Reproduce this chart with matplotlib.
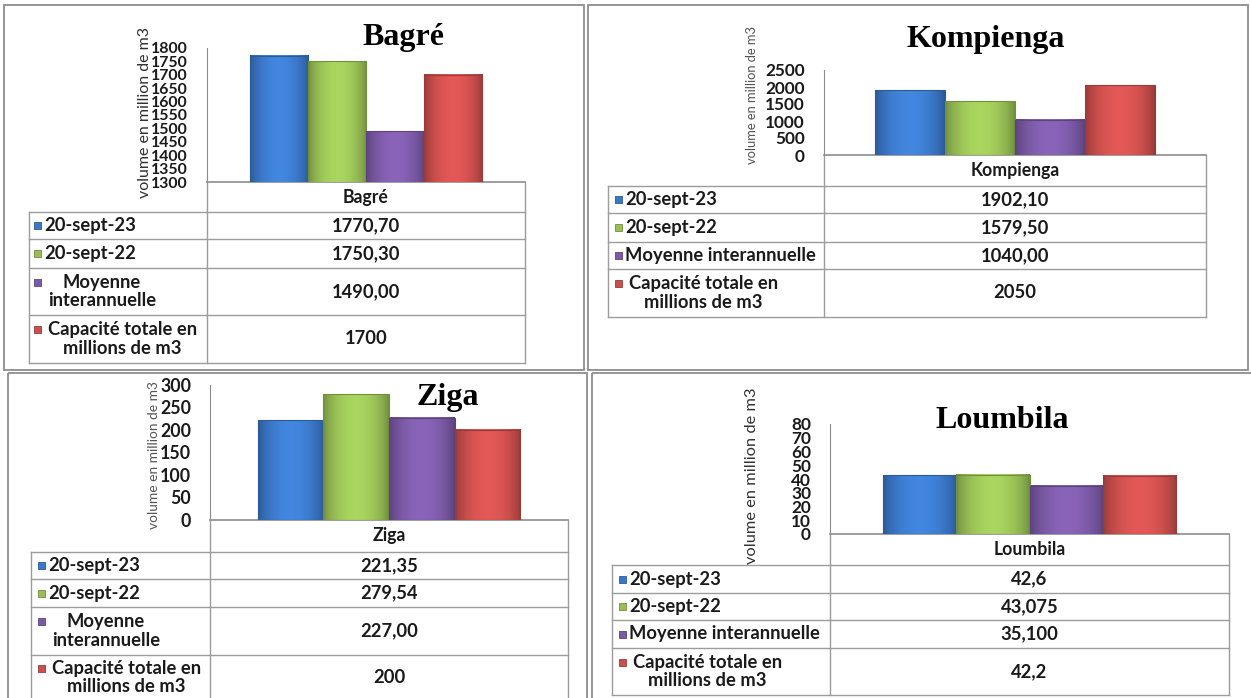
import numpy as np
import matplotlib.pyplot as plt
from matplotlib.patches import Rectangle
from matplotlib.colors import to_rgb

plt.rcParams['font.family'] = ['Lato', 'DejaVu Sans']

W, H = 1251, 698

# reservoir volumes (million m3), as written in each data table
series = ['20-sept-23', '20-sept-22', 'Moyenne interannuelle',
          'Capacité totale en millions de m3']
colors = ['#3b78c8', '#98bf55', '#7b59a5', '#cb4f4d']

bagre_vals = ['1770,70', '1750,30', '1490,00', '1700']
kompienga_vals = ['1902,10', '1579,50', '1040,00', '2050']
ziga_vals = ['221,35', '279,54', '227,00', '200']
loumbila_vals = ['42,6', '43,075', '35,100', '42,2']

bagre_ticks = [1300, 1350, 1400, 1450, 1500, 1550, 1600, 1650, 1700, 1750, 1800]
kompienga_ticks = [0, 500, 1000, 1500, 2000, 2500]
ziga_ticks = [0, 50, 100, 150, 200, 250, 300]
loumbila_ticks = [0, 10, 20, 30, 40, 50, 60, 70, 80]

labels_wrapped = ['20-sept-23', '20-sept-22', 'Moyenne\ninterannuelle',
                  'Capacité totale en\nmillions de m3']
labels_wide = ['20-sept-23', '20-sept-22', 'Moyenne interannuelle',
               'Capacité totale en\nmillions de m3']
ylabel = 'volume en million de m3'

# pixel layout of each chart block
panels = [
    dict(name='Bagré', vals=bagre_vals, ticks=bagre_ticks, labels=labels_wrapped,
         box=(4, 5, 584, 370), title=(403, 37), ylab=(145, 113, 11.5, '#303030'),
         left=29, split=207, right=525, top=48, base=182,
         rows=[212, 239, 268, 315, 363], mk=34, tick_fs=11.4),
    dict(name='Kompienga', vals=kompienga_vals, ticks=kompienga_ticks, labels=labels_wide,
         box=(588, 5, 1248, 370), title=(986, 40), ylab=(752, 95, 9.3, '#555555'),
         left=608, split=824, right=1206, top=70, base=155,
         rows=[186, 213, 242, 269, 317], mk=615, tick_fs=12.4),
    dict(name='Ziga', vals=ziga_vals, ticks=ziga_ticks, labels=labels_wrapped,
         box=(8, 373, 587, 701), title=(448, 398), ylab=(154, 455, 9.9, '#555555'),
         left=31, split=210, right=568, top=385, base=520,
         rows=[552, 579, 607, 655, 700], mk=38, tick_fs=12.8),
    dict(name='Loumbila', vals=loumbila_vals, ticks=loumbila_ticks, labels=labels_wide,
         box=(592, 373, 1253, 701), title=(1002, 420), ylab=(752, 476, 11.8, '#333333'),
         left=612, split=830, right=1229, top=424, base=534,
         rows=[565, 593, 620, 648, 695], mk=619, tick_fs=12.4),
]

fig = plt.figure(figsize=(W / 100, H / 100), dpi=100)
ov = fig.add_axes([0, 0, 1, 1])
ov.set_xlim(0, W)
ov.set_ylim(H, 0)
ov.axis('off')

line_c = '#9c9c9c'
axis_c = '#8c8c8c'
text_c = '#1a1a1a'
table_fs = 13.2


def darker(c, k=0.75):
    return tuple(np.clip(np.array(to_rgb(c)) * k, 0, 1))


def shade(ax, patch, color, floor):
    # horizontal light-to-dark gradient like the Excel bevel
    x0, y0 = patch.get_x(), max(patch.get_y(), floor)
    w, top = patch.get_width(), patch.get_y() + patch.get_height()
    t = np.linspace(0, 1, 64)
    k = 0.74 + 0.38 * np.sin(np.pi * t) ** 0.7
    rgb = np.clip(np.array(to_rgb(color))[None, :] * k[:, None], 0, 1)
    ax.imshow(rgb[None, :, :], extent=(x0, x0 + w, y0, top),
              aspect='auto', zorder=2, interpolation='bicubic')


for p in panels:
    values = [float(v.replace(',', '.')) for v in p['vals']]
    x0, y0, x1, y1 = p['box']
    ov.add_patch(Rectangle((x0, y0), x1 - x0, y1 - y0, fill=False,
                           ec=axis_c, lw=1.3))

    ov.text(*p['title'], p['name'], family='Liberation Serif', weight='bold',
            fontsize=23, ha='center', va='center')
    lx, ly, lfs, lc = p['ylab']
    ov.text(lx, ly, ylabel, rotation=90, ha='center', va='center',
            fontsize=lfs, color=lc)

    # bar chart area
    sp, rt, top, base = p['split'], p['right'], p['top'], p['base']
    lo, hi = p['ticks'][0], p['ticks'][-1]
    ax = fig.add_axes([sp / W, 1 - base / H, (rt - sp) / W, (base - top) / H])
    ax.patch.set_alpha(0)
    bw = 0.183
    xs = [0.5 + (i - 1.5) * bw for i in range(len(values))]
    bars = ax.bar(xs, values, width=bw, color=colors,
                  edgecolor=[darker(c) for c in colors], linewidth=0.8, zorder=3)
    for b, c in zip(bars, colors):
        b.set_facecolor('none')
        shade(ax, b, c, lo)
    ax.set_xlim(0, 1)
    ax.set_ylim(lo, hi)
    ax.set_xticks([])
    ax.set_yticks(p['ticks'])
    ax.set_yticklabels([str(t) for t in p['ticks']], fontweight='bold',
                       fontsize=p['tick_fs'], color=text_c)
    ax.tick_params(axis='y', length=0, pad=13.7)
    for s in ['top', 'right', 'bottom']:
        ax.spines[s].set_visible(False)
    ax.spines['left'].set_color(axis_c)

    # data table
    rows = p['rows']
    lf = p['left']
    ov.plot([sp, rt], [base, base], color=axis_c, lw=1.2)
    ov.plot([sp, sp], [base, rows[-1]], color=line_c, lw=1)
    ov.plot([rt, rt], [base, rows[-1]], color=line_c, lw=1)
    ov.plot([lf, lf], [rows[0], rows[-1]], color=line_c, lw=1)
    for r in rows:
        ov.plot([lf, rt], [r, r], color=line_c, lw=1)
    cx = (sp + rt) / 2
    ov.text(cx, (base + rows[0]) / 2, p['name'], ha='center', va='center',
            fontsize=table_fs - 0.5, fontweight='bold', color=text_c)
    for i, (lab, val, c) in enumerate(zip(p['labels'], p['vals'], colors)):
        yc = (rows[i] + rows[i + 1]) / 2
        ov.text(cx, yc, val, ha='center', va='center', fontsize=table_fs,
                fontweight='bold', color=text_c)
        if '\n' in lab:
            my = yc - 9.5
            tx = p['mk'] + 14
        else:
            my = yc
            tx = p['mk'] + 10
        ov.add_patch(Rectangle((p['mk'], my - 3.5), 7, 7, fc=c,
                               ec=darker(c), lw=0.6))
        ov.text(tx, yc, lab, ha='left', va='center', fontsize=table_fs,
                fontweight='bold', color=text_c, multialignment='center',
                linespacing=1.1)

fig.savefig('out.png', dpi=100)
